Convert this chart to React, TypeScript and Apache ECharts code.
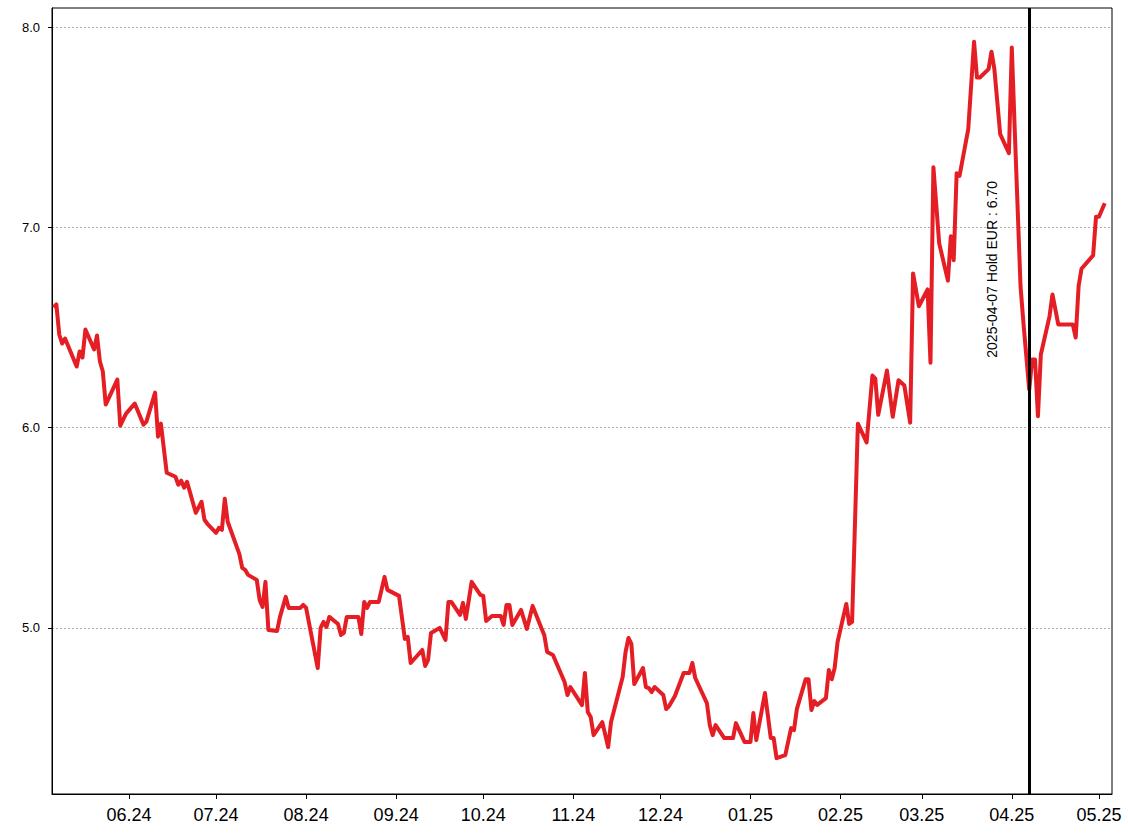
import React, { useEffect, useRef } from "react";
import * as echarts from "echarts";

const dates: string[] = [
  "2024-05-06", "2024-05-07", "2024-05-08", "2024-05-09", "2024-05-10", "2024-05-14", "2024-05-15", "2024-05-16",
  "2024-05-17", "2024-05-20", "2024-05-21", "2024-05-22", "2024-05-23", "2024-05-24", "2024-05-28", "2024-05-29",
  "2024-05-31", "2024-06-03", "2024-06-06", "2024-06-07", "2024-06-10", "2024-06-11", "2024-06-12", "2024-06-14",
  "2024-06-17", "2024-06-18", "2024-06-19", "2024-06-20", "2024-06-21", "2024-06-24", "2024-06-26", "2024-06-27",
  "2024-06-28", "2024-07-01", "2024-07-02", "2024-07-03", "2024-07-04", "2024-07-05", "2024-07-09", "2024-07-10",
  "2024-07-11", "2024-07-12", "2024-07-15", "2024-07-16", "2024-07-17", "2024-07-18", "2024-07-19", "2024-07-22",
  "2024-07-23", "2024-07-25", "2024-07-26", "2024-07-30", "2024-07-31", "2024-08-01", "2024-08-05", "2024-08-06",
  "2024-08-07", "2024-08-08", "2024-08-09", "2024-08-12", "2024-08-13", "2024-08-14", "2024-08-15", "2024-08-19",
  "2024-08-20", "2024-08-21", "2024-08-22", "2024-08-23", "2024-08-26", "2024-08-28", "2024-08-29", "2024-09-02",
  "2024-09-04", "2024-09-05", "2024-09-06", "2024-09-10", "2024-09-11", "2024-09-12", "2024-09-13", "2024-09-16",
  "2024-09-18", "2024-09-19", "2024-09-20", "2024-09-23", "2024-09-24", "2024-09-25", "2024-09-27", "2024-09-30",
  "2024-10-01", "2024-10-02", "2024-10-04", "2024-10-07", "2024-10-08", "2024-10-09", "2024-10-10", "2024-10-11",
  "2024-10-14", "2024-10-16", "2024-10-18", "2024-10-21", "2024-10-22", "2024-10-23", "2024-10-25", "2024-10-29",
  "2024-10-30", "2024-10-31", "2024-11-04", "2024-11-05", "2024-11-06", "2024-11-07", "2024-11-08", "2024-11-11",
  "2024-11-13", "2024-11-14", "2024-11-18", "2024-11-19", "2024-11-20", "2024-11-21", "2024-11-22", "2024-11-25",
  "2024-11-26", "2024-11-27", "2024-11-28", "2024-11-29", "2024-12-02", "2024-12-03", "2024-12-04", "2024-12-06",
  "2024-12-09", "2024-12-11", "2024-12-12", "2024-12-13", "2024-12-17", "2024-12-18", "2024-12-19", "2024-12-20",
  "2024-12-23", "2024-12-26", "2024-12-27", "2024-12-30", "2025-01-01", "2025-01-02", "2025-01-03", "2025-01-06",
  "2025-01-08", "2025-01-09", "2025-01-10", "2025-01-13", "2025-01-15", "2025-01-16", "2025-01-17", "2025-01-20",
  "2025-01-21", "2025-01-22", "2025-01-23", "2025-01-24", "2025-01-27", "2025-01-28", "2025-01-29", "2025-01-30",
  "2025-01-31", "2025-02-03", "2025-02-04", "2025-02-05", "2025-02-07", "2025-02-10", "2025-02-12", "2025-02-13",
  "2025-02-14", "2025-02-17", "2025-02-19", "2025-02-21", "2025-02-23", "2025-02-25", "2025-02-26", "2025-02-28",
  "2025-03-03", "2025-03-04", "2025-03-05", "2025-03-07", "2025-03-10", "2025-03-11", "2025-03-12", "2025-03-13",
  "2025-03-14", "2025-03-17", "2025-03-19", "2025-03-20", "2025-03-21", "2025-03-24", "2025-03-25", "2025-03-26",
  "2025-03-28", "2025-03-31", "2025-04-01", "2025-04-02", "2025-04-04", "2025-04-05", "2025-04-07", "2025-04-08",
  "2025-04-09", "2025-04-10", "2025-04-11", "2025-04-14", "2025-04-15", "2025-04-17", "2025-04-22", "2025-04-23",
  "2025-04-24", "2025-04-25", "2025-04-29", "2025-04-30", "2025-05-01", "2025-05-03",
];

const values: number[] = [
  6.6, 6.615, 6.465, 6.42, 6.445, 6.305, 6.38, 6.35,
  6.49, 6.39, 6.46, 6.33, 6.28, 6.115, 6.24, 6.01,
  6.07, 6.12, 6.015, 6.03, 6.175, 5.955, 6.02, 5.775,
  5.755, 5.715, 5.735, 5.7, 5.73, 5.575, 5.63, 5.54,
  5.52, 5.475, 5.5, 5.49, 5.645, 5.53, 5.37, 5.3,
  5.29, 5.265, 5.24, 5.14, 5.105, 5.23, 4.99, 4.985,
  5.055, 5.155, 5.1, 5.1, 5.115, 5.1, 4.8, 5.0,
  5.03, 5.005, 5.055, 5.02, 4.965, 4.975, 5.055, 5.055,
  4.97, 5.13, 5.1, 5.13, 5.13, 5.255, 5.19, 5.16,
  4.945, 4.955, 4.825, 4.89, 4.81, 4.84, 4.975, 5.0,
  4.94, 5.13, 5.13, 5.065, 5.125, 5.045, 5.23, 5.165,
  5.16, 5.035, 5.06, 5.06, 5.015, 5.115, 5.115, 5.015,
  5.09, 4.995, 5.11, 5.0, 4.965, 4.88, 4.865, 4.73,
  4.665, 4.705, 4.615, 4.775, 4.58, 4.555, 4.465, 4.53,
  4.405, 4.53, 4.755, 4.88, 4.95, 4.92, 4.72, 4.8,
  4.705, 4.7, 4.68, 4.705, 4.665, 4.595, 4.61, 4.66,
  4.775, 4.775, 4.825, 4.75, 4.625, 4.515, 4.465, 4.515,
  4.45, 4.45, 4.525, 4.43, 4.43, 4.575, 4.44, 4.675,
  4.45, 4.45, 4.35, 4.365, 4.5, 4.49, 4.596, 4.744,
  4.744, 4.59, 4.635, 4.616, 4.65, 4.79, 4.744, 4.8,
  4.93, 5.12, 5.02, 5.03, 6.02, 5.926, 6.26, 6.245,
  6.064, 6.285, 6.054, 6.237, 6.21, 6.025, 6.77, 6.606,
  6.69, 6.324, 7.3, 6.92, 6.734, 6.955, 6.836, 7.27,
  7.257, 7.49, 7.927, 7.748, 7.748, 7.79, 7.877, 7.79,
  7.465, 7.37, 7.898, 7.49, 6.707, 6.523, 6.19, 6.34,
  6.34, 6.057, 6.365, 6.557, 6.665, 6.515, 6.515, 6.45,
  6.707, 6.793, 6.86, 7.053, 7.053, 7.12,
];

const xTickDates: string[] = [
  "2024-06-01", "2024-07-01", "2024-08-01", "2024-09-01", "2024-10-01", "2024-11-01",
  "2024-12-01", "2025-01-01", "2025-02-01", "2025-03-01", "2025-04-01", "2025-05-01",
];
const yTicks: number[] = [5, 6, 7, 8];

const xMinDate = "2024-05-05T12:00:00";
const xMaxDate = "2025-05-05T12:00:00";
const yMin = 4.171;
const yMax = 8.095;

const eventDate = "2025-04-07";
const eventLabel = "2025-04-07 Hold EUR : 6.70";
const eventLabelValue = 6.79;

const FONT = "'Liberation Sans', Arial, Helvetica, sans-serif";

function toTs(s: string): number {
  return new Date(s.length === 10 ? s + "T00:00:00" : s).getTime();
}

export default function App() {
  const ref = useRef<HTMLDivElement>(null);

  useEffect(() => {
    if (!ref.current) return;
    const chart = echarts.init(ref.current, null, { renderer: "svg" });
    const seriesData = dates.map((d, i) => [toTs(d), values[i]]);
    const xTicks = xTickDates.map(toTs);

    chart.setOption({
      animation: false,
      backgroundColor: "#ffffff",
      grid: {
        left: 52,
        right: 16,
        top: 8,
        bottom: 42,
        show: true,
        borderColor: "#000",
        borderWidth: 1,
        backgroundColor: "transparent",
      },
      xAxis: {
        type: "value",
        min: toTs(xMinDate),
        max: toTs(xMaxDate),
        axisLine: { show: true, lineStyle: { color: "#000", width: 1 } },
        axisTick: {
          show: true,
          length: 5,
          lineStyle: { color: "#000", width: 1 },
          customValues: xTicks,
        },
        axisLabel: {
          customValues: xTicks,
          color: "#000",
          fontSize: 18,
          fontFamily: FONT,
          margin: 12,
          formatter: (val: number) => {
            const d = new Date(val);
            const mm = String(d.getMonth() + 1).padStart(2, "0");
            const yy = String(d.getFullYear() % 100).padStart(2, "0");
            return mm + "." + yy;
          },
        },
        splitLine: { show: false },
      },
      yAxis: {
        type: "value",
        min: yMin,
        max: yMax,
        axisLine: { show: true, lineStyle: { color: "#000", width: 1 } },
        axisTick: {
          show: true,
          length: 4,
          lineStyle: { color: "#000", width: 1 },
          customValues: yTicks,
        },
        axisLabel: {
          customValues: yTicks,
          color: "#000",
          fontSize: 13,
          fontFamily: FONT,
          margin: 12,
          formatter: (v: number) => v.toFixed(1),
        },
        splitLine: {
          show: true,
          lineStyle: { color: "#999999", width: 0.8, type: [2, 2] },
        },
      },
      series: [
        {
          type: "line",
          data: seriesData,
          showSymbol: false,
          symbol: "none",
          lineStyle: { color: "#e41e24", width: 4, join: "round" },
          itemStyle: { color: "#e41e24" },
          z: 2,
          markLine: {
            silent: true,
            symbol: ["none", "none"],
            z: 5,
            label: { show: false },
            lineStyle: { color: "#000", width: 3, type: "solid" },
            data: [{ xAxis: toTs(eventDate) }],
          },
        },
      ],
    });

    const p = chart.convertToPixel({ xAxisIndex: 0, yAxisIndex: 0 }, [toTs(eventDate), eventLabelValue]) as number[];
    chart.setOption({
      graphic: [
        {
          type: "text",
          x: p[0] - 37,
          y: p[1],
          rotation: Math.PI / 2,
          z: 10,
          style: {
            text: eventLabel,
            fontSize: 14,
            fontFamily: FONT,
            fill: "#000",
            align: "center",
            verticalAlign: "middle",
          },
        },
      ],
    });

    return () => {
      chart.dispose();
    };
  }, []);

  return (
    <div
      ref={ref}
      style={{ position: "fixed", left: 0, top: 0, width: 1128, height: 836, background: "#fff" }}
    />
  );
}
